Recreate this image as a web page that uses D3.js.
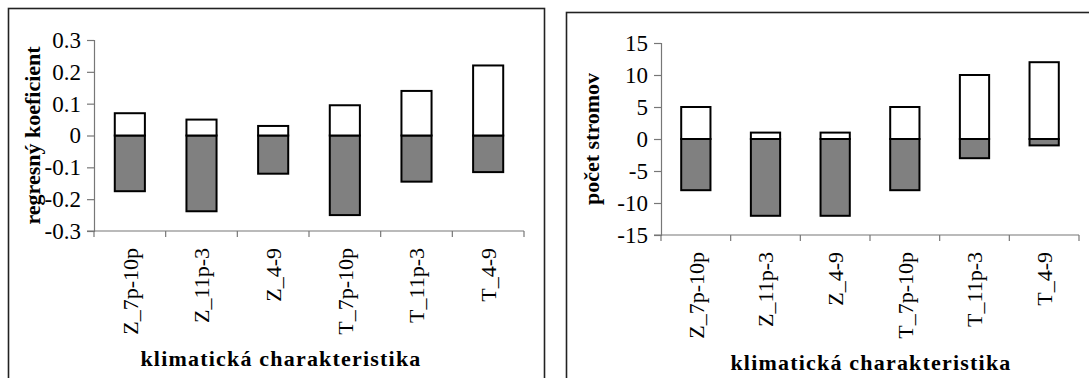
<!DOCTYPE html>
<html>
<head>
<meta charset="utf-8">
<script src="https://cdn.jsdelivr.net/npm/d3@7/dist/d3.min.js"></script>
<style>
  html, body { margin: 0; padding: 0; background: #fff; }
  svg { display: block; }
  svg text { font-family: "Liberation Serif", "Times New Roman", serif; fill: #000; }
</style>
</head>
<body>
<svg id="chart" width="1089" height="378"></svg>
<script>
// Climate characteristics (shared x categories)
const categories = ["Z_7p-10p", "Z_11p-3", "Z_4-9", "T_7p-10p", "T_11p-3", "T_4-9"];

// Regression coefficients: positive and negative parts per characteristic
const coefPositive = [0.07, 0.05, 0.03, 0.095, 0.14, 0.22];
const coefNegative = [-0.175, -0.238, -0.12, -0.25, -0.145, -0.115];
const coefTicks = [-0.3, -0.2, -0.1, 0, 0.1, 0.2, 0.3];

// Number of trees with positive / negative response
const treesPositive = [5, 1, 1, 5, 10, 12];
const treesNegative = [-8, -12, -12, -8, -3, -1];
const treesTicks = [-15, -10, -5, 0, 5, 10, 15];

const xTitle = "klimatická charakteristika";

const SERIF = "'Liberation Serif', 'Times New Roman', serif";

const svg = d3.select("#chart");

function fmtTick(v) {
  if (Math.abs(v) < 1e-9) return "0";
  return String(+v.toFixed(2));
}

function panel(cfg) {
  const g = svg.append("g").attr("font-family", SERIF);

  // outer frame of the panel
  g.append("rect")
    .attr("x", cfg.frame[0]).attr("y", cfg.frame[1])
    .attr("width", cfg.frame[2]).attr("height", cfg.frame[3])
    .attr("fill", "none").attr("stroke", "#222").attr("stroke-width", 1.6);

  const x = d3.scaleBand().domain(categories).range([cfg.x0, cfg.x1]).padding(0);
  const y = d3.scaleLinear().domain(cfg.domain).range([cfg.yBottom, cfg.yTop]);
  const barW = x.bandwidth() * 0.42;

  // y axis
  const yAxis = g.append("g")
    .attr("transform", `translate(${cfg.x0},0)`)
    .call(d3.axisLeft(y).tickValues(cfg.ticks).tickFormat(fmtTick).tickSizeOuter(0).tickSize(7).tickPadding(6));
  yAxis.attr("font-family", SERIF).attr("font-size", 23);
  yAxis.select(".domain").attr("stroke", "#777").attr("stroke-width", 1.2);
  yAxis.selectAll(".tick line").attr("stroke", "#777").attr("stroke-width", 1.2);
  yAxis.selectAll(".tick text").attr("fill", "#000");

  // x axis with ticks on category boundaries
  const xb = g.append("g").attr("transform", `translate(0,${cfg.yBottom})`);
  xb.append("line")
    .attr("x1", cfg.x0 - 7).attr("x2", cfg.x1)
    .attr("stroke", "#777").attr("stroke-width", 1.2);
  const bounds = categories.map(c => x(c)).concat([x(categories[categories.length - 1]) + x.bandwidth()]);
  xb.selectAll("line.bt").data(bounds).join("line")
    .attr("class", "bt")
    .attr("x1", d => d).attr("x2", d => d)
    .attr("y1", 0).attr("y2", 6)
    .attr("stroke", "#777").attr("stroke-width", 1.2);

  // category labels, rotated
  xb.selectAll("text.cat").data(categories).join("text")
    .attr("class", "cat")
    .attr("transform", d => `translate(${x(d) + x.bandwidth() / 2},${cfg.labelY}) rotate(-90)`)
    .attr("text-anchor", "end")
    .attr("dy", "0.35em")
    .attr("font-size", 22)
    .text(d => d);

  // negative (grey) bars
  g.selectAll("rect.neg").data(cfg.neg).join("rect")
    .attr("class", "neg")
    .attr("x", (d, i) => x(categories[i]) + (x.bandwidth() - barW) / 2)
    .attr("y", y(0))
    .attr("width", barW)
    .attr("height", d => y(d) - y(0))
    .attr("fill", "#808080").attr("stroke", "#000").attr("stroke-width", 2);

  // positive (white) bars
  g.selectAll("rect.pos").data(cfg.pos).join("rect")
    .attr("class", "pos")
    .attr("x", (d, i) => x(categories[i]) + (x.bandwidth() - barW) / 2)
    .attr("y", d => y(d))
    .attr("width", barW)
    .attr("height", d => y(0) - y(d))
    .attr("fill", "#fff").attr("stroke", "#000").attr("stroke-width", 2);

  // y title
  g.append("text")
    .attr("transform", `translate(${cfg.yTitleX},${(cfg.yTop + cfg.yBottom) / 2}) rotate(-90)`)
    .attr("text-anchor", "middle")
    .attr("font-size", 22).attr("font-weight", "bold")
    .text(cfg.yTitle);

  // x title
  g.append("text")
    .attr("x", cfg.xTitleX).attr("y", cfg.xTitleY)
    .attr("text-anchor", "middle")
    .attr("font-size", 22).attr("font-weight", "bold")
    .attr("letter-spacing", 1.2)
    .text(xTitle);
}

panel({
  frame: [8.5, 8.5, 536, 400],
  x0: 94, x1: 524,
  domain: [-0.3, 0.3], yTop: 40, yBottom: 231,
  ticks: coefTicks, pos: coefPositive, neg: coefNegative,
  labelY: 17,
  yTitle: "regresný koeficient", yTitleX: 40,
  xTitleX: 281, xTitleY: 366
});

panel({
  frame: [566.5, 12.5, 560, 400],
  x0: 661, x1: 1079,
  domain: [-15, 15], yTop: 43, yBottom: 235,
  ticks: treesTicks, pos: treesPositive, neg: treesNegative,
  labelY: 17,
  yTitle: "počet stromov", yTitleX: 599,
  xTitleX: 871, xTitleY: 370
});
</script>
</body>
</html>
